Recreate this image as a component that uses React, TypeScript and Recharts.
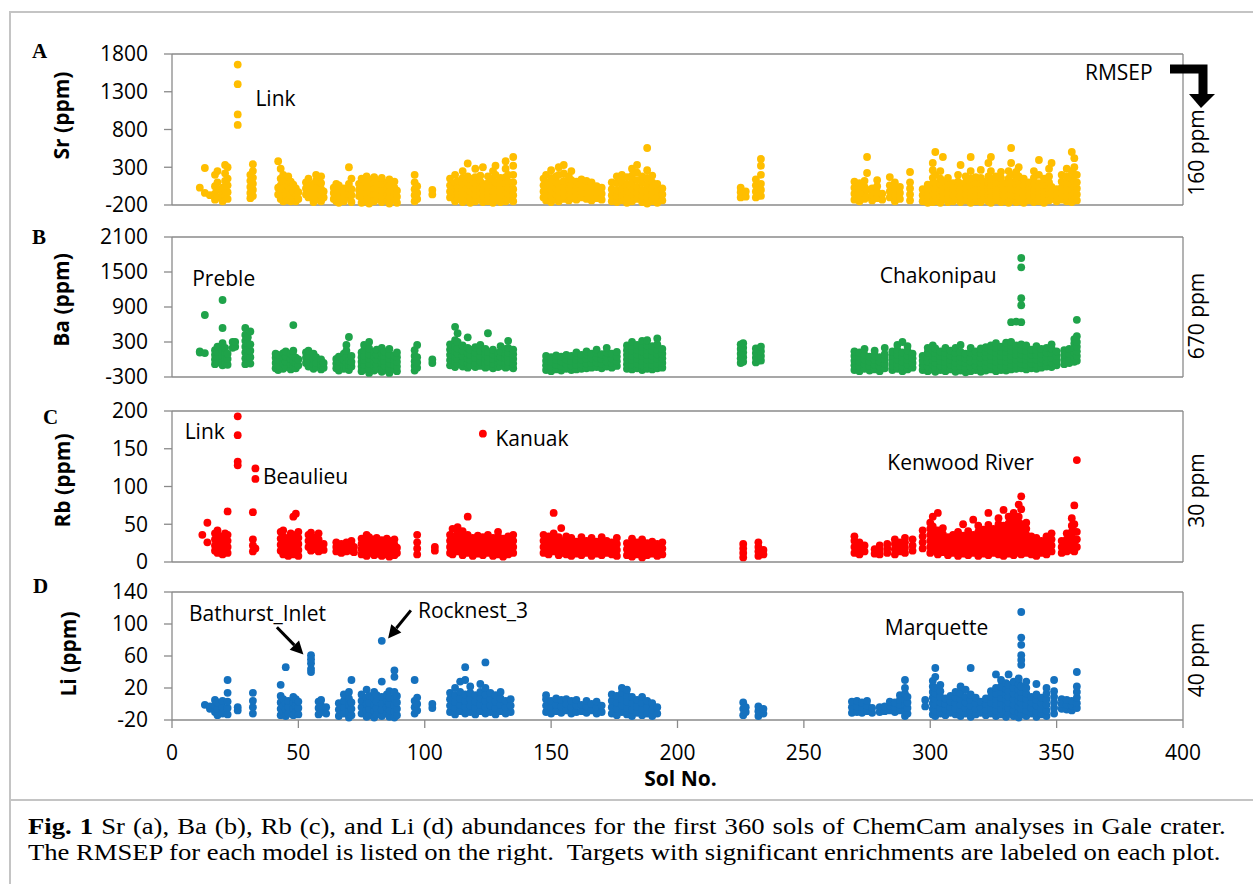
import React from 'react';
import { ScatterChart, Scatter, XAxis, YAxis, ReferenceLine, ReferenceDot } from 'recharts';

type Col = [number, number[]];

const solTicks = [0, 50, 100, 150, 200, 250, 300, 350, 400];
const srTicks = [-200, 300, 800, 1300, 1800];
const baTicks = [-300, 300, 900, 1500, 2100];
const rbTicks = [0, 50, 100, 150, 200];
const liTicks = [-20, 20, 60, 100, 140];

// Sr (ppm): [sol, values observed at that sol]
const srCols: Col[] = [
  [11, [30]], [13, [-40, 290]], [15, [-70]], [17, [-130, -50, 50, 200]], [18, [-100, 0, 100, 250]],
  [20, [-150, -60, 30]], [21, [-80, 20, 120, 220, 330]], [22, [-120, -30, 60, 150, 300]],
  [26, [860, 1000, 1400, 1660]], [31, [-110, -40, 40, 120, 200]], [32, [-80, 0, 80, 160, 250, 340]],
  [42, [-60, 30, 380]], [43, [-120, -30, 60, 150, 280]], [44, [-150, -80, 0, 100, 200]], [45, [-140, -50, 40, 130]],
  [46, [-130, -40, 50, 180]], [47, [-150, -60, 30, 110]], [48, [-110, -20, 70]], [49, [-150, -70, 20]], [50, [-120, -30]],
  [53, [-60, 20, 100]], [54, [-100, -20, 60, 150]], [56, [-160, -80, 0, 80]], [57, [-130, -50, 30, 120, 200]],
  [59, [-150, -70, 10, 90, 180]], [60, [-100, -20]], [64, [-120, -40, 30]], [65, [-150, -70, 10, 80]],
  [66, [-170, -90, -10, 60]], [68, [-150, -60, 20]], [70, [-100, -10, 80, 300]], [71, [-160, -70, 10, 150]],
  [74, [-80, 0, 80]], [75, [-170, -100, -20, 60, 150]], [77, [-150, -60, 20, 100, 180]], [78, [-180, -100, -20, 60, 140]],
  [80, [-150, -70, 10, 90, 170]], [81, [-120, -40, 40, 120]], [83, [-160, -80, 0, 80, 160]], [85, [-140, -60, 20, 100]],
  [86, [-180, -100, -20, 60, 140]], [88, [-130, -50, 30, 110]], [89, [-170, -90, -10]],
  [96, [-150, -70, 10, 100, 200]], [97, [-120, -40, 50]], [103, [-60, 0]],
  [110, [-100, -20, 60, 150]], [112, [-150, -70, 10, 90, 200]], [113, [-120, -40, 40, 120]], [115, [-160, -80, 0, 80, 160, 250]],
  [117, [-140, -60, 20, 100, 180, 350]], [118, [-170, -90, -10, 70, 150]], [120, [-150, -70, 10, 90, 170, 280]],
  [122, [-130, -50, 30, 110, 190]], [123, [-160, -80, 0, 80, 300]], [125, [-150, -70, 10, 90, 180]],
  [127, [-170, -90, -10, 70, 150, 250]], [128, [-140, -60, 20, 100, 200, 320]], [130, [-160, -80, 0, 80, 160]],
  [132, [-150, -70, 10, 90, 170, 280, 380]], [133, [-130, -50, 30, 110, 200]], [135, [-150, -70, 10, 100, 200, 320, 436]],
  [147, [-100, -20, 60, 150]], [148, [-140, -60, 20, 100, 200]], [150, [-160, -80, 0, 80, 160, 260]],
  [152, [-130, -50, 30, 110, 180]], [153, [-150, -70, 10, 90, 200, 300]], [155, [-120, -40, 40, 120, 220, 330]],
  [157, [-140, -60, 20, 100, 180]], [158, [-110, -30, 50, 130, 250]], [160, [-130, -50, 30, 110]],
  [162, [-100, -20, 60, 140]], [164, [-120, -40, 40, 120]], [166, [-140, -60, 20, 100]], [168, [-110, -30, 50]],
  [170, [-130, -50, 30]], [174, [-150, -70, 10, 100]], [176, [-160, -80, 0, 90, 180]], [178, [-140, -60, 20, 110, 200]],
  [180, [-170, -90, -10, 80, 170]], [182, [-150, -70, 10, 100, 190, 280]], [184, [-120, -40, 40, 130, 230, 330]],
  [186, [-160, -80, 0, 90, 180]], [188, [-180, -100, -20, 70, 160, 260, 555]], [190, [-150, -70, 10, 100, 190]],
  [192, [-170, -90, -10, 80]], [194, [-140, -60, 20]],
  [225, [-100, -30, 30]], [227, [-90, -20]], [231, [-100, -20, 60, 140]], [233, [-80, 0, 80, 200, 320, 410]],
  [270, [-130, -50, 30, 110]], [272, [-150, -70, 10, 90]], [274, [-120, -40, 40, 120]], [275, [-100, 0, 224, 436]],
  [277, [-140, -60, 20]], [279, [-110, -30, 50, 130]], [281, [-130, -50]], [284, [-100, -20, 60, 170]],
  [286, [-150, -70, 10, 100]], [288, [-120, -40, 40]], [292, [-140, -60, 20, 100, 237]], [297, [-150, -70, 10]],
  [299, [-170, -90, -10, 70]], [301, [-160, -80, 0, 80, 160, 260, 356]], [302, [-150, -70, 10, 90, 200, 502]],
  [304, [-170, -90, -10, 70, 150, 250]], [305, [-130, -50, 30, 110, 436]], [307, [-160, -80, 0, 80, 160]],
  [309, [-150, -70, 10, 90]], [311, [-130, -50, 30, 110, 200]], [312, [-160, -80, 0, 80, 330]],
  [314, [-140, -60, 20, 100, 180]], [316, [-170, -90, -10, 70, 150, 250, 436]], [318, [-150, -70, 10, 90, 170]],
  [320, [-160, -80, 0, 80, 160, 264]], [321, [-130, -50, 30, 110]], [323, [-150, -70, 10, 90, 180, 356]],
  [324, [-170, -90, -10, 70, 150, 250, 436]], [326, [-140, -60, 20, 100, 180]], [328, [-160, -80, 0, 80, 160, 240]],
  [329, [-150, -70, 10, 90]], [331, [-170, -90, -10, 70, 150, 250]], [332, [-140, -60, 20, 100, 200, 356, 555]],
  [334, [-160, -80, 0, 80, 160, 240]], [335, [-150, -70, 10, 90, 180, 300]], [337, [-170, -90, -10, 70, 150]],
  [339, [-140, -60, 20, 100]], [341, [-160, -80, 0, 80, 160, 250]], [343, [-150, -70, 10, 90, 200, 396]],
  [345, [-170, -90, -10, 70, 150]], [347, [-140, -60, 20, 100, 180, 280]], [348, [-120, -40, 40, 356]],
  [350, [-150, -70, 10]], [352, [-130, -50, 30, 110, 200]], [354, [-150, -70, 10, 90, 180, 280]],
  [356, [-160, -80, 0, 80, 160, 250, 502]], [357, [-130, -50, 30, 110, 200, 300, 420]], [358, [-140, -60, 20, 100, 200]],
];

// Ba (ppm)
const baCols: Col[] = [
  [11, [120, 140]], [13, [110, 763]], [17, [-80, 0, 80, 160]], [18, [-50, 40, 130, 220]],
  [20, [-100, -20, 60, 150, 280, 540, 1020]], [21, [-60, 30, 120, 200]], [22, [-90, 10, 100]],
  [24, [200, 300]], [25, [220, 300]], [29, [-80, 20, 120, 220, 320, 420, 540]], [30, [-50, 60, 170, 280, 380]],
  [31, [-70, 40, 150, 260, 480]], [41, [-150, -60, 30, 100]], [42, [-180, -100, -10, 80]], [44, [-160, -70, 20, 110]],
  [45, [-130, -40, 50, 140]], [47, [-170, -80, 10, 100]], [48, [-120, -30, 60, 150, 590]], [49, [-150, -60, 30]],
  [50, [-100, 0]], [53, [-60, 30, 120]], [54, [-120, -30, 60, 150]], [56, [-160, -80, 10, 100]], [57, [-130, -50, 40]],
  [59, [-170, -90, 0]], [60, [-140, -60]], [65, [-150, -70, 10]], [66, [-190, -110, -30, 50]], [68, [-160, -80, 0, 100]],
  [69, [-140, -50, 40, 150, 250]], [70, [-180, -100, -20, 386]], [71, [-120, -40, 60]],
  [75, [-200, -120, -40, 40, 120]], [76, [-170, -90, -10, 70, 160, 250]], [78, [-230, -150, -70, 10, 90, 190, 300]],
  [80, [-190, -110, -30, 50, 130]], [81, [-160, -80, 0, 80, 170]], [83, [-210, -130, -50, 30, 110, 200]],
  [84, [-180, -100, -20, 60, 140]], [86, [-230, -150, -70, 10, 90, 180]], [88, [-170, -90, -10, 70]],
  [89, [-200, -120, -40, 40, 120]], [96, [-190, -110, -30, 60, 160]], [97, [-140, -50, 40, 250]], [103, [-60, 0]],
  [110, [-100, -10, 80, 170, 260]], [112, [-130, -40, 50, 140, 230, 330, 560]], [113, [-80, 10, 100, 190, 300, 450]],
  [115, [-120, -30, 60, 150, 240]], [117, [-140, -60, 20, 110, 200, 380]], [118, [-100, -10, 80, 170]],
  [120, [-130, -50, 30, 120, 210]], [122, [-110, -30, 60, 150, 250]], [124, [-140, -60, 20, 100, 180]],
  [125, [-120, -40, 40, 130, 450]], [127, [-150, -70, 10, 90, 170]], [129, [-130, -50, 30, 110]],
  [130, [-110, -30, 50, 140, 230]], [132, [-140, -60, 20, 100, 180]], [133, [-120, -40, 40, 120, 200, 320]],
  [135, [-150, -70, 10, 90, 170]],
  [148, [-180, -100, -20, 60]], [150, [-200, -120, -40, 40]], [152, [-170, -90, -10, 70]], [154, [-190, -110, -30, 50]],
  [156, [-160, -80, 0, 80]], [158, [-180, -100, -20, 60]], [160, [-170, -90, -10, 70, 120]], [162, [-160, -80, 0, 80]],
  [164, [-150, -70, 10, 90, 140]], [166, [-140, -60, 20, 100]], [168, [-130, -50, 30, 110, 170]],
  [170, [-150, -70, 10, 90]], [172, [-120, -40, 40, 120, 200]], [174, [-140, -60, 20, 100]], [176, [-110, -30, 50, 130]],
  [180, [-160, -80, 0, 80, 160, 240]], [182, [-170, -90, -10, 70, 150, 230, 300]], [184, [-150, -70, 10, 90, 170, 250]],
  [186, [-180, -100, -20, 60, 140, 220, 320]], [188, [-160, -80, 0, 80, 160, 240, 330]], [190, [-170, -90, -10, 70, 150, 230]],
  [192, [-150, -70, 10, 90, 170, 260, 360]], [194, [-140, -60, 20, 100, 180]],
  [225, [-60, 20, 100, 180, 260]], [226, [-40, 40, 120, 200, 280]], [231, [-50, 30, 110, 190]], [233, [-20, 60, 140, 220]],
  [270, [-180, -100, -20, 60, 140]], [272, [-200, -120, -40, 40, 120]], [274, [-160, -80, 0, 80, 180]],
  [276, [-190, -110, -30, 50]], [278, [-170, -90, -10, 70, 150]], [280, [-200, -120, -40, 40]],
  [282, [-150, -70, 10, 90, 200]], [285, [-180, -100, -20, 60, 140]], [287, [-160, -80, 0, 80, 160, 250]],
  [289, [-200, -120, -40, 40, 120, 300]], [291, [-170, -90, -10, 70, 150, 230]], [293, [-140, -60, 20, 100]],
  [297, [-180, -100, -20, 60]], [299, [-200, -120, -40, 40, 120, 200]], [301, [-170, -90, -10, 70, 150, 240]],
  [302, [-210, -130, -50, 30, 110, 190]], [304, [-180, -100, -20, 60, 140]], [306, [-200, -120, -40, 40, 120, 200]],
  [308, [-170, -90, -10, 70, 150]], [310, [-210, -130, -50, 30, 110, 200]], [312, [-190, -110, -30, 50, 130, 250]],
  [314, [-220, -140, -60, 20, 100]], [316, [-200, -120, -40, 40, 120, 200]], [318, [-180, -100, -20, 60, 140]],
  [320, [-210, -130, -50, 30, 110, 190]], [322, [-190, -110, -30, 50, 130, 210]], [324, [-170, -90, -10, 70, 150, 240]],
  [326, [-200, -120, -40, 40, 120, 200, 280]], [328, [-180, -100, -20, 60, 140, 220]],
  [330, [-190, -110, -30, 50, 130, 210, 290]], [332, [-170, -90, -10, 70, 150, 240, 300, 640]],
  [334, [-160, -80, 0, 80, 160, 240, 650]], [336, [-150, -70, 10, 90, 170, 260, 640, 930, 1050, 1580, 1740]],
  [338, [-170, -90, -10, 70, 150, 240]], [340, [-150, -70, 10, 90, 170]], [342, [-160, -80, 0, 80, 160, 230]],
  [344, [-140, -60, 20, 100, 180]], [346, [-120, -40, 40, 120, 200]], [348, [-130, -50, 30, 110, 190, 260]],
  [350, [-100, -20, 60, 140]], [353, [-80, 0, 80, 160]], [355, [-60, 20, 100, 180]],
  [357, [-40, 40, 120, 200, 280, 350]], [358, [-20, 60, 140, 220, 300, 400, 680]],
];

// Rb (ppm)
const rbCols: Col[] = [
  [12, [36]], [14, [26, 52]], [17, [15, 22, 30, 38]], [18, [12, 20, 28, 36, 42]], [20, [10, 18, 26, 34]],
  [21, [14, 22, 30, 38]], [22, [12, 20, 28, 36, 67]], [26, [128, 133, 168, 193]], [32, [14, 22, 30, 66]],
  [33, [18, 110, 124]], [43, [15, 23, 31, 40]], [44, [10, 18, 26, 34, 42]], [45, [12, 20, 28]], [46, [8, 16, 24, 32]],
  [47, [14, 22, 30, 38]], [48, [10, 18, 26, 34, 60]], [49, [12, 20, 28, 36, 64]], [50, [8, 16, 24, 32, 40]],
  [54, [20, 28, 36]], [55, [15, 23, 31, 39]], [57, [17, 25, 33]], [58, [14, 22, 30, 38]], [60, [16, 24]],
  [65, [14, 20, 26]], [67, [12, 18, 24]], [69, [14, 20, 26]], [71, [15, 22, 28]], [72, [13, 20]],
  [75, [10, 17, 24, 31]], [77, [8, 15, 22, 29, 36]], [78, [12, 19, 26, 33]], [80, [9, 16, 23, 30]],
  [81, [11, 18, 25, 32]], [83, [8, 15, 22, 29]], [85, [10, 17, 24, 31]], [86, [7, 14, 21, 28]],
  [88, [9, 16, 23, 30]], [89, [12, 19]], [97, [10, 18, 26, 36]], [104, [15, 20]],
  [110, [12, 20, 28, 36]], [111, [10, 18, 26, 34, 44]], [113, [14, 22, 30, 38, 46]], [115, [9, 17, 25, 33, 41]],
  [117, [12, 20, 28, 36, 60]], [119, [8, 16, 24, 32]], [121, [11, 19, 27, 35]], [123, [9, 17, 25, 33, 170]],
  [125, [12, 20, 28, 36]], [127, [8, 16, 24, 32]], [129, [10, 18, 26, 34, 40]], [131, [7, 15, 23, 31]],
  [133, [10, 18, 26, 34]], [135, [12, 20, 28, 36]],
  [147, [12, 20, 28, 36]], [149, [10, 18, 26, 34]], [151, [14, 22, 30, 38, 65]], [153, [9, 17, 25, 33]],
  [154, [12, 20, 28, 45]], [156, [10, 18, 26, 34]], [158, [8, 16, 24, 32]], [160, [11, 19, 27]],
  [162, [9, 17, 25, 33]], [164, [12, 20, 28]], [166, [8, 16, 24, 32]], [168, [11, 19, 27]],
  [170, [9, 17, 25, 33]], [172, [12, 20, 28]], [174, [10, 18, 26]], [176, [8, 16, 24, 32]],
  [180, [9, 17, 25]], [182, [7, 15, 23, 31]], [184, [10, 18, 26]], [186, [6, 14, 22, 30]],
  [188, [9, 17, 25]], [190, [11, 19, 27]], [192, [8, 16, 24]], [194, [10, 18, 26]],
  [226, [6, 12, 18, 24]], [232, [8, 14, 20, 26]], [234, [10, 16]],
  [270, [12, 20, 28, 34]], [272, [10, 18, 26]], [274, [14, 22]], [278, [11, 17]], [280, [10, 16, 22]],
  [283, [12, 18, 24]], [286, [10, 17, 24, 30]], [288, [14, 20, 26]], [290, [12, 19, 26, 32]], [293, [15, 22, 30]],
  [297, [18, 26, 34, 42]], [300, [12, 20, 28, 36, 44, 52]], [301, [15, 23, 31, 39, 47, 60]],
  [303, [10, 18, 26, 34, 42, 65]], [305, [13, 21, 29, 37, 45]], [307, [9, 17, 25, 33]], [309, [12, 20, 28, 36]],
  [311, [8, 16, 24, 32, 40]], [313, [11, 19, 27, 35, 50]], [315, [9, 17, 25, 33, 41]], [317, [12, 20, 28, 36, 56]],
  [319, [8, 16, 24, 32, 40, 48]], [321, [11, 19, 27, 35, 43]], [323, [9, 17, 25, 33, 41, 49, 65]],
  [325, [12, 20, 28, 36, 44]], [327, [10, 18, 26, 34, 42, 50, 58]], [329, [8, 16, 24, 32, 40, 48, 69]],
  [331, [11, 19, 27, 35, 43, 51, 60]], [333, [9, 17, 25, 33, 41, 49, 57, 65]], [335, [12, 20, 28, 36, 44, 52, 60, 76]],
  [336, [10, 18, 26, 34, 42, 50, 70, 87]], [338, [12, 20, 28, 36, 44, 52]], [340, [10, 18, 26, 34]],
  [342, [8, 16, 24, 32]], [344, [12, 20, 28]], [346, [10, 18, 26, 34]], [348, [14, 22, 30, 38]],
  [352, [12, 20, 28]], [354, [14, 22, 30, 38]], [356, [16, 24, 32, 40, 48, 58]], [357, [14, 22, 30, 40, 50, 75]],
  [358, [20, 30, 40, 135]],
];

// Li (ppm)
const liCols: Col[] = [
  [13, [-1]], [15, [-6, -3]], [17, [-10, -2, 5]], [18, [-14, -6, 2]], [20, [-12, -4, 4]], [22, [-13, -5, 3, 14, 30]],
  [26, [-8, -4]], [32, [-12, -4, 4, 14]], [43, [-14, -6, 2, 10, 24]], [44, [-10, -2, 6]], [45, [-15, -7, 1, 46]],
  [46, [-12, -4, 4]], [48, [-14, -6, 2, 9]], [49, [-10, -2, 6]], [50, [-13, -5, 3]], [55, [40, 44, 51, 56, 61]],
  [58, [-13, -5, 3]], [59, [-10, -2, 5]], [61, [-12, -4]], [66, [-15, -7, 1]], [68, [-12, -4, 4, 12]],
  [70, [-17, -9, -1, 7, 15]], [71, [-14, -6, 2, 30]], [75, [-12, -4, 4, 12]], [77, [-16, -8, 0, 8, 18]],
  [78, [-14, -6, 2, 10]], [80, [-17, -9, -1, 7, 15]], [81, [-13, -5, 3, 11]], [83, [-15, -7, 1, 9, 28, 79]],
  [85, [-12, -4, 4, 12]], [86, [-16, -8, 0, 8, 16]], [88, [-17, -9, -1, 7, 15, 34, 42]], [89, [-14, -6, 2, 10]],
  [96, [-12, -4, 4, 30]], [97, [-8, 0, 8]], [103, [-5, 0]],
  [110, [-10, -2, 6, 14]], [112, [-13, -5, 3, 11, 20]], [114, [-9, -1, 7, 15, 28]], [116, [-12, -4, 4, 12, 30, 46]],
  [118, [-10, -2, 6, 14, 22]], [120, [-13, -5, 3, 11]], [122, [-9, -1, 7, 15, 25]], [124, [-12, -4, 4, 12, 20, 52]],
  [126, [-10, -2, 6, 14]], [128, [-13, -5, 3, 11]], [130, [-9, -1, 7, 15]], [132, [-12, -4, 4]], [134, [-10, -2, 6]],
  [148, [-10, -2, 6, 11]], [150, [-12, -4, 4]], [152, [-9, -1, 7]], [154, [-11, -3, 5]], [156, [-8, 0, 6]],
  [158, [-12, -4, 4]], [160, [-10, -2, 5]], [162, [-9, -1]], [164, [-11, -3, 4]], [166, [-8, 0]], [168, [-12, -4, 3]],
  [170, [-10, -2]], [174, [-12, -4, 4, 12]], [176, [-14, -6, 2, 10]], [178, [-10, -2, 6, 14, 20]],
  [180, [-13, -5, 3, 11, 18]], [182, [-15, -7, 1, 9]], [184, [-11, -3, 5]], [186, [-14, -6, 2, 9]],
  [188, [-12, -4, 4]], [190, [-15, -7, 1]], [192, [-12, -4]],
  [226, [-14, -6, 2]], [227, [-10, -4]], [232, [-15, -9, -3]], [234, [-12, -6]],
  [269, [-11, -4, 3]], [271, [-10, -3, 4]], [273, [-11, -4, 2]], [275, [-9, -2, 4]], [277, [-11, -5]],
  [280, [-10, -4]], [282, [-9, -3]], [284, [-8, -2, 3]], [286, [-10, -4, 2]], [288, [-8, -1, 5, 11]],
  [290, [-15, -8, -1, 6, 13, 20, 30]], [291, [-12, -5, 2, 9]], [298, [-3, 5]],
  [301, [-13, -6, 1, 8, 15, 22, 29]], [302, [-15, -8, -1, 6, 13, 20, 34, 45]], [304, [-12, -5, 2, 9, 16, 24]],
  [306, [-14, -7, 0, 7]], [308, [-11, -4, 3, 10]], [310, [-13, -6, 1, 8, 15]], [312, [-15, -8, -1, 6, 13, 22]],
  [314, [-12, -5, 2, 9, 18]], [316, [-16, -9, -2, 5, 12, 45]], [318, [-13, -6, 1, 8]], [320, [-11, -4, 3]],
  [322, [-14, -7, 0, 7]], [324, [-12, -5, 2, 9, 16]], [326, [-15, -8, -1, 6, 13, 20, 37]],
  [328, [-13, -6, 1, 8, 15, 22, 30]], [330, [-16, -9, -2, 5, 12, 19, 26]], [331, [-12, -5, 2, 9, 16, 24, 37]],
  [333, [-15, -8, -1, 6, 13, 20, 28]], [335, [-17, -10, -3, 4, 11, 18, 25, 32]],
  [336, [-13, -6, 1, 8, 15, 22, 49, 55, 61, 74, 83, 115]], [338, [-15, -8, -1, 6, 13, 20, 28]],
  [340, [-12, -5, 2, 9]], [342, [-16, -9, -2, 5, 12, 25]], [344, [-13, -6, 1, 8]], [346, [-15, -8, -1, 6, 13, 20]],
  [349, [-12, -5, 2, 9, 16, 30]], [352, [-6, 0, 6]], [354, [-7, -1, 5]], [356, [-8, -2, 4]],
  [358, [-5, 1, 8, 15, 22, 40]],
];

type Note = { text: string; sol: number; value: number };
type Arrow = { from: [number, number]; to: [number, number] };

const srNotes: Note[] = [{ text: 'Link', sol: 33, value: 1217 }];
const baNotes: Note[] = [
  { text: 'Preble', sol: 8, value: 1397 },
  { text: 'Chakonipau', sol: 280, value: 1449 },
];
const rbNotes: Note[] = [
  { text: 'Link', sol: 5, value: 173 },
  { text: 'Beaulieu', sol: 36, value: 114 },
  { text: 'Kanuak', sol: 128, value: 164 },
  { text: 'Kenwood River', sol: 283, value: 132 },
];
const liNotes: Note[] = [
  { text: 'Bathurst_Inlet', sol: 6.7, value: 114 },
  { text: 'Rocknest_3', sol: 97.3, value: 117 },
  { text: 'Marquette', sol: 282, value: 96 },
];
const liArrows: Arrow[] = [
  { from: [41.5, 96], to: [52, 62] },
  { from: [94.5, 117], to: [85.5, 82] },
];

const AXIS = '#8a8a8a';
const FONT = "'Open Sans', sans-serif";

const flatten = (cols: Col[]) => cols.flatMap(([sol, vals]) => vals.map((v) => ({ x: sol, y: v })));

const arrowShape = (p: any) => {
  const { x1, y1, x2, y2 } = p;
  const ang = Math.atan2(y2 - y1, x2 - x1);
  const L = 13;
  const W = 6.5;
  const bx = x2 - L * Math.cos(ang);
  const by = y2 - L * Math.sin(ang);
  const px = -Math.sin(ang) * W;
  const py = Math.cos(ang) * W;
  return (
    <g>
      <line x1={x1} y1={y1} x2={bx} y2={by} stroke="#000" strokeWidth={3} />
      <polygon points={`${x2},${y2} ${bx + px},${by + py} ${bx - px},${by - py}`} fill="#000" />
    </g>
  );
};

type PanelProps = {
  top: number;
  height: number;
  marginTop: number;
  marginBottom: number;
  axisH: number;
  cols: Col[];
  color: string;
  ticks: number[];
  letter: string;
  letterX: number;
  letterDy: number;
  title: string;
  titleX: number;
  titleDy: number;
  rmsep: string;
  rmsepDy: number;
  notes: Note[];
  arrows?: Arrow[];
  bottom?: boolean;
  rmsepArrow?: boolean;
};

function Panel(props: PanelProps) {
  const { top, height, marginTop, marginBottom, axisH, cols, color, ticks, notes, arrows = [], bottom } = props;
  const data = flatten(cols);
  const yMin = ticks[0];
  const yMax = ticks[ticks.length - 1];

  const yLabel = (lp: any) => {
    const vb = lp.viewBox || { x: 0, y: marginTop, width: 172, height: height - marginTop - marginBottom - axisH };
    const mid = vb.y + vb.height / 2;
    const ty = mid + props.titleDy;
    const ry = mid + props.rmsepDy;
    return (
      <g>
        <text x={props.letterX} y={vb.y + props.letterDy} fontFamily="'Liberation Serif', serif" fontWeight="bold" fontSize={21} dominantBaseline="central" fill="#000">
          {props.letter}
        </text>
        <text transform={`translate(${props.titleX} ${ty}) rotate(-90)`} textAnchor="middle" dominantBaseline="central" fontFamily={FONT} fontWeight="bold" fontSize={21} fill="#000">
          {props.title}
        </text>
        <text transform={`translate(1196 ${ry}) rotate(-90)`} textAnchor="middle" dominantBaseline="central" fontFamily={FONT} fontSize={21} fill="#000">
          {props.rmsep}
        </text>
        {props.rmsepArrow && (
          <g>
            <text x={1085} y={vb.y + 18} dominantBaseline="central" fontFamily={FONT} fontSize={21} fill="#000">RMSEP</text>
            <path d={`M1170 ${vb.y + 15} L1203 ${vb.y + 15} L1203 ${vb.y + 41}`} stroke="#000" strokeWidth={9} fill="none" strokeLinejoin="miter" />
            <polygon points={`1189,${vb.y + 40} 1215,${vb.y + 40} 1201,${vb.y + 54}`} fill="#000" />
          </g>
        )}
      </g>
    );
  };

  const xLabel = (lp: any) => {
    const vb = lp.viewBox || { x: 172, y: height - axisH, width: 1011, height: axisH };
    return (
      <text x={vb.x + vb.width / 2 + 3} y={vb.y + 66} textAnchor="middle" fontFamily={FONT} fontWeight="bold" fontSize={21} fill="#000">
        Sol No.
      </text>
    );
  };

  return (
    <div style={{ position: 'absolute', left: 0, top, width: 1253, height }}>
      <ScatterChart width={1253} height={height} margin={{ top: marginTop, right: 70, bottom: marginBottom, left: 0 }}>
        <XAxis
          type="number"
          dataKey="x"
          domain={[0, 400]}
          ticks={solTicks}
          interval={0}
          height={axisH}
          tickSize={8}
          tickMargin={17}
          axisLine={{ stroke: AXIS, strokeWidth: 1.3 }}
          tickLine={{ stroke: AXIS, strokeWidth: 1.3 }}
          tick={bottom ? { fill: '#000', fontSize: 21, fontFamily: FONT } : false}
          label={bottom ? xLabel : undefined}
        />
        <YAxis
          type="number"
          dataKey="y"
          domain={[yMin, yMax]}
          ticks={ticks}
          interval={0}
          width={172}
          tickSize={8}
          tickMargin={16}
          axisLine={{ stroke: AXIS, strokeWidth: 1.3 }}
          tickLine={{ stroke: AXIS, strokeWidth: 1.3 }}
          tick={{ fill: '#000', fontSize: 21, fontFamily: FONT }}
          label={yLabel}
        />
        <ReferenceLine y={yMax} stroke={AXIS} strokeWidth={1.3} />
        <ReferenceLine x={400} stroke={AXIS} strokeWidth={1.3} />
        <Scatter
          data={data}
          isAnimationActive={false}
          shape={(p: any) => <circle cx={p.cx} cy={p.cy} r={3.9} fill={color} />}
        />
        {notes.map((n) => (
          <ReferenceDot
            key={n.text}
            x={n.sol}
            y={n.value}
            r={0}
            shape={(p: any) => (
              <text x={p.cx} y={p.cy} dominantBaseline="central" fontFamily={FONT} fontSize={21} fill="#000">
                {n.text}
              </text>
            )}
          />
        ))}
        {arrows.map((a, i) => (
          <ReferenceLine
            key={i}
            segment={[{ x: a.from[0], y: a.from[1] }, { x: a.to[0], y: a.to[1] }]}
            shape={arrowShape}
          />
        ))}
      </ScatterChart>
    </div>
  );
}

export default function App() {
  return (
    <div style={{ position: 'absolute', left: 0, top: 0, width: 1253, height: 884, background: '#fff', overflow: 'hidden' }}>
      <div style={{ position: 'absolute', left: 9, top: 11, width: 1260, height: 2, background: '#c4c4c4' }} />
      <div style={{ position: 'absolute', left: 9, top: 11, width: 2, height: 900, background: '#c4c4c4' }} />
      <div style={{ position: 'absolute', left: 9, top: 799, width: 1260, height: 2, background: '#c4c4c4' }} />

      <Panel top={0} height={229} marginTop={54} marginBottom={14} axisH={10} cols={srCols} color="#FFBE00" ticks={srTicks}
        letter="A" letterX={32} letterDy={-3} title="Sr (ppm)" titleX={61} titleDy={-14} rmsep="160 ppm" rmsepDy={23}
        notes={srNotes} rmsepArrow />
      <Panel top={215} height={186} marginTop={22} marginBottom={14} axisH={10} cols={baCols} color="#1FA34A" ticks={baTicks}
        letter="B" letterX={32} letterDy={0} title="Ba (ppm)" titleX={61} titleDy={-7} rmsep="670 ppm" rmsepDy={9}
        notes={baNotes} />
      <Panel top={387} height={199} marginTop={24} marginBottom={14} axisH={10} cols={rbCols} color="#FF0000" ticks={rbTicks}
        letter="C" letterX={43} letterDy={6} title="Rb (ppm)" titleX={62} titleDy={-6} rmsep="30 ppm" rmsepDy={4}
        notes={rbNotes} />
      <Panel top={572} height={228} marginTop={20} marginBottom={0} axisH={80} cols={liCols} color="#1571BE" ticks={liTicks}
        letter="D" letterX={33} letterDy={-6} title="Li (ppm)" titleX={68} titleDy={-2} rmsep="40 ppm" rmsepDy={4}
        notes={liNotes} arrows={liArrows} bottom />

      <div style={{ position: 'absolute', left: 28, top: 813, width: 1079, transform: 'scaleX(1.11)', transformOrigin: 'left top', fontFamily: "'Liberation Serif', 'Times New Roman', serif", fontSize: 24, lineHeight: '26px', color: '#000' }}>
        <div style={{ textAlign: 'justify', textAlignLast: 'justify', whiteSpace: 'nowrap' }}>
          <b>Fig. 1</b> Sr (a), Ba (b), Rb (c), and Li (d) abundances for the first 360 sols of ChemCam analyses in Gale crater.
        </div>
        <div style={{ whiteSpace: 'pre' }}>
          {'The RMSEP for each model is listed on the right.  Targets with significant enrichments are labeled on each plot.'}
        </div>
      </div>
    </div>
  );
}
